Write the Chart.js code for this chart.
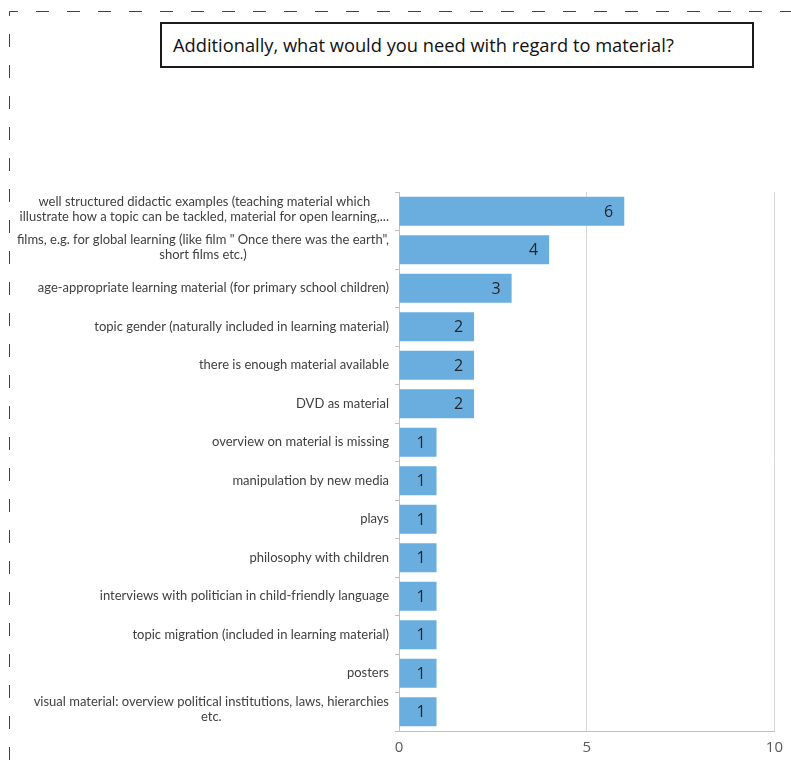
<!DOCTYPE html>
<html>
<head>
<meta charset="utf-8">
<script src="https://cdn.jsdelivr.net/npm/chart.js@4/dist/chart.umd.min.js"></script>
<style>
  html, body { margin: 0; padding: 0; background: #ffffff; }
  #wrap { position: relative; width: 791px; height: 760px; overflow: hidden; }
  #c { position: absolute; left: 0; top: 0; }
  #title {
    position: absolute; left: 160px; top: 22px; width: 579px; height: 42px;
    border: 2px solid #1a1a1a; background: #fff;
    font-family: "Open Sans", sans-serif; font-size: 18.3px; color: #111;
    line-height: 42px; padding-left: 11px; box-sizing: content-box; white-space: nowrap;
  }
</style>
</head>
<body>
<div id="wrap">
  <canvas id="c" width="791" height="760"></canvas>
  <div id="title">Additionally, what would you need with regard to material?</div>
</div>
<script>
const categories = [
  ["well structured didactic examples (teaching material which", "illustrate how a topic can be tackled, material for open learning,..."],
  ["films, e.g. for global learning (like film \" Once there was the earth\",", "short films etc.)"],
  ["age-appropriate learning material (for primary school children)"],
  ["topic gender (naturally included in learning material)"],
  ["there is enough material available"],
  ["DVD as material"],
  ["overview on material is missing"],
  ["manipulation by new media"],
  ["plays"],
  ["philosophy with children"],
  ["interviews with politician in child-friendly language"],
  ["topic migration (included in learning material)"],
  ["posters"],
  ["visual material: overview political institutions, laws, hierarchies", "etc."]
];
const counts = [6, 4, 3, 2, 2, 2, 1, 1, 1, 1, 1, 1, 1, 1];
const xTicks = [0, 5, 10];

const LABEL_FONT = '13px "Lato", sans-serif';
const LABEL_COLOR = '#404040';

const framePlugin = {
  id: 'frame',
  beforeDraw(chart) {
    const ctx = chart.ctx;
    ctx.save();
    ctx.strokeStyle = '#404040';
    ctx.lineWidth = 1;
    ctx.setLineDash([13, 18]);
    ctx.beginPath();
    ctx.moveTo(9.5, 760);
    ctx.lineTo(9.5, 11.5);
    ctx.lineTo(791, 11.5);
    ctx.stroke();
    ctx.restore();
  }
};

const yLabelPlugin = {
  id: 'ylabels',
  afterDraw(chart) {
    const ctx = chart.ctx;
    const ys = chart.scales.y;
    ctx.save();
    ctx.font = LABEL_FONT;
    ctx.fillStyle = LABEL_COLOR;
    ctx.textAlign = 'center';
    ctx.textBaseline = 'middle';
    const right = 389;
    const lh = 15;
    categories.forEach((lines, i) => {
      const y = ys.getPixelForTick(i);
      let w = 0;
      lines.forEach(l => { w = Math.max(w, ctx.measureText(l).width); });
      const cx = right - w / 2;
      const y0 = y - (lines.length - 1) * lh / 2 - (lines.length > 1 ? 2 : 0);
      lines.forEach((l, k) => ctx.fillText(l, cx, y0 + k * lh));
    });
    ctx.restore();
  }
};

const valuePlugin = {
  id: 'values',
  afterDatasetsDraw(chart) {
    const ctx = chart.ctx;
    const meta = chart.getDatasetMeta(0);
    ctx.save();
    ctx.font = '16px "Open Sans", sans-serif';
    ctx.fillStyle = '#262626';
    ctx.textAlign = 'right';
    ctx.textBaseline = 'middle';
    meta.data.forEach((bar, i) => {
      ctx.fillText(String(counts[i]), bar.x - 11, bar.y + 1);
    });
    ctx.restore();
  }
};

new Chart(document.getElementById('c'), {
  type: 'bar',
  data: {
    labels: categories,
    datasets: [{
      data: counts,
      backgroundColor: '#6aaee0',
      borderWidth: 0,
      barPercentage: 0.75,
      categoryPercentage: 1.0
    }]
  },
  options: {
    indexAxis: 'y',
    responsive: false,
    animation: false,
    layout: { padding: { top: 192, right: 16, left: 0, bottom: 0 } },
    plugins: { legend: { display: false }, tooltip: { enabled: false }, title: { display: false } },
    scales: {
      y: {
        ticks: { display: false },
        grid: { drawOnChartArea: false, drawTicks: true, tickLength: 4, color: '#bfbfbf', offset: true },
        border: { display: true, color: '#bfbfbf' },
        afterFit(scale) { scale.width = 399; }
      },
      x: {
        min: 0, max: 10,
        afterBuildTicks(scale) { scale.ticks = xTicks.map(v => ({ value: v })); },
        ticks: { color: '#595959', font: { family: '"Open Sans", sans-serif', size: 15 }, padding: 8 },
        grid: { color: '#d9d9d9', drawTicks: false },
        border: { display: true, color: '#bfbfbf' },
        afterFit(scale) { scale.height = 29; }
      }
    }
  },
  plugins: [framePlugin, yLabelPlugin, valuePlugin]
});
</script>
</body>
</html>
